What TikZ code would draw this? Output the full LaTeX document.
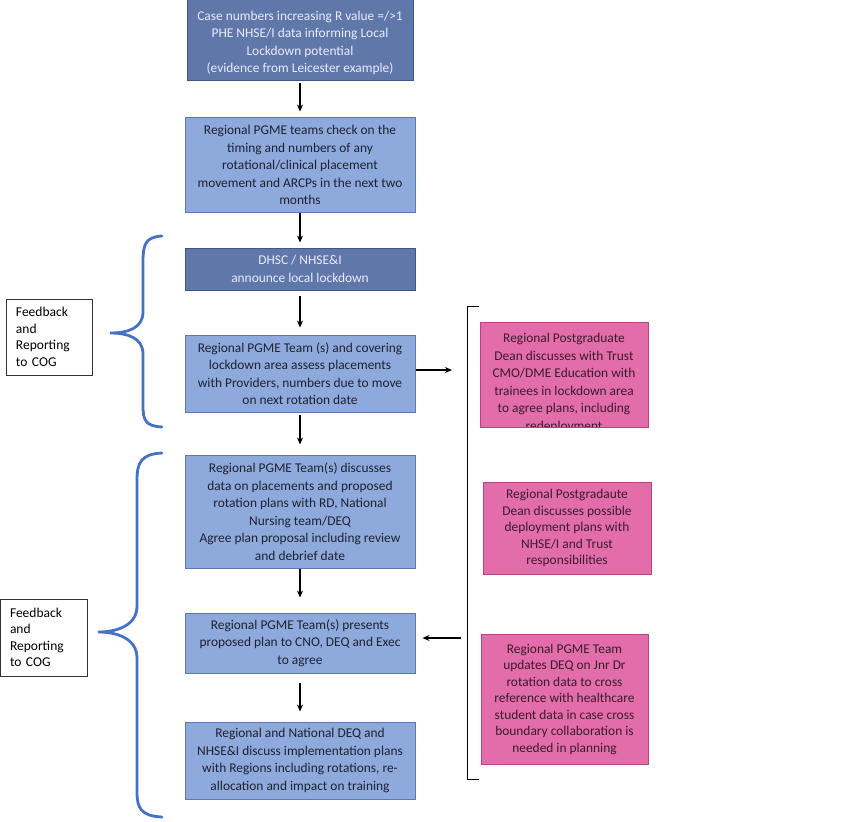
\documentclass[tikz,border=0pt]{standalone}
\usepackage{fontspec}
\setmainfont{Carlito}
\usetikzlibrary{arrows.meta}
\definecolor{darkfill}{HTML}{6078A9}
\definecolor{darkline}{HTML}{3F5788}
\definecolor{bluefill}{HTML}{8EA9DB}
\definecolor{blueline}{HTML}{5A78B4}
\definecolor{pinkfill}{HTML}{E36CAA}
\definecolor{pinkline}{HTML}{B8447F}
\definecolor{bracecol}{HTML}{4472C4}
\definecolor{bluetext}{HTML}{1E2230}
\definecolor{pinktext}{HTML}{3A1C2C}
\begin{document}
\begin{tikzpicture}[x=1pt,y=-1pt,
  base/.style={rectangle,inner sep=0pt,align=center,font=\fontsize{13.4}{17.5}\selectfont,line width=1pt},
  darkbox/.style={base,fill=darkfill,draw=darkline,text=white!92!blue},
  bluebox/.style={base,fill=bluefill,draw=blueline,text=bluetext},
  pinkbox/.style={base,fill=pinkfill,draw=pinkline,text=pinktext,font=\fontsize{13.4}{16.5}\selectfont},
  pinktxt/.style={base,text=pinktext,font=\fontsize{13.4}{17.5}\selectfont},
  fbbox/.style={rectangle,inner sep=0pt,draw=black!80,line width=0.8pt,align=left,font=\fontsize{13.5}{16.5}\selectfont},
  arr/.style={-{Stealth[length=7pt,width=6pt]},line width=1.1pt},
  bracestyle/.style={draw=bracecol,line width=2.8pt,line cap=round},
  brk/.style={line width=1pt}
]
\useasboundingbox (0,0) rectangle (850,821);

% main flow boxes
\node[darkbox,minimum width=226pt,minimum height=82pt] (b1) at (300,40) {\rule{0pt}{15pt}Case numbers increasing R value =/>1\\PHE NHSE/I data informing Local\\Lockdown potential\\(evidence from Leicester example)};
\node[bluebox,minimum width=230pt,minimum height=94pt] (b2) at (300,165) {Regional PGME teams check on the\\timing and numbers of any\\rotational/clinical placement\\movement and ARCPs in the next two\\months};
\node[darkbox,minimum width=230pt,minimum height=42pt] (b3) at (300,269) {DHSC / NHSE\&I\\announce local lockdown};
\node[bluebox,minimum width=230pt,minimum height=77pt] (b4) at (300,373.5) {Regional PGME Team (s) and covering\\lockdown area assess placements\\with Providers, numbers due to move\\on next rotation date};
\node[bluebox,minimum width=230pt,minimum height=113pt] (b5) at (300,511.5) {Regional PGME Team(s) discusses\\data on placements and proposed\\rotation plans with RD, National\\Nursing team/DEQ\\Agree plan proposal including review\\and debrief date};
\node[bluebox,minimum width=230pt,minimum height=60pt] (b6) at (300,643) {Regional PGME Team(s) presents\\proposed plan to CNO, DEQ and Exec\\to agree};
\node[bluebox,minimum width=230pt,minimum height=77pt] (b7) at (300,760.5) {Regional and National DEQ and\\NHSE\&I discuss implementation plans\\with Regions including rotations, re-\\allocation and impact on training};

% pink box 1 (text overflows and is cut at the bottom edge)
\fill[pinkfill] (480,322) rectangle (648,427);
\begin{scope}
\clip (480,322) rectangle (648,426.5);
\node[pinktxt] (p1) at (564,383) {Regional Postgraduate\\Dean discusses with Trust\\CMO/DME Education with\\trainees in lockdown area\\to agree plans, including\\redeployment};
\end{scope}
\draw[pinkline,line width=1pt] (480,322) rectangle (648,427);
\node[pinkbox,minimum width=168pt,minimum height=92pt] (p2) at (567,528) {Regional Postgradaute\\Dean discusses possible\\deployment plans with\\NHSE/I and Trust\\responsibilities};
\node[pinkbox,minimum width=167pt,minimum height=130pt] (p3) at (564.5,699) {Regional PGME Team\\updates DEQ on Jnr Dr\\rotation data to cross\\reference with healthcare\\student data in case cross\\boundary collaboration is\\needed in planning};

% feedback boxes
\node[fbbox,minimum width=86pt,minimum height=76pt,text width=66pt] (f1) at (49,337) {Feedback\\and\\Reporting\\to COG};
\node[fbbox,minimum width=87pt,minimum height=77pt,text width=67pt] (f2) at (43.5,637.5) {Feedback\\and\\Reporting\\to COG};

% vertical arrows
\draw[arr,shorten <=2pt,shorten >=6pt] (b1.south) -- (b2.north);
\draw[arr,shorten >=5pt] (b2.south) -- (b3.north);
\draw[arr,shorten <=5pt,shorten >=7pt] (b3.south) -- (b4.north);
\draw[arr,shorten <=2pt,shorten >=10pt] (b4.south) -- (b5.north);
\draw[arr,shorten >=15pt] (b5.south) -- (b6.north);
\draw[arr,shorten <=9pt,shorten >=10pt] (b6.south) -- (b7.north);

% horizontal arrows
\coordinate (rin) at (452,370);
\coordinate (rout) at (461,638);
\draw[arr] (b4.east |- rin) -- (rin);
\draw[arr,shorten >=7pt] (rout) -- (rout -| b6.east);

% right bracket
\coordinate (bt) at (479,306);
\coordinate (bb) at (479,779);
\draw[brk] (bt) -- (467,306) -- (467,779) -- (bb);

% curly braces
\draw[bracestyle] (162,236) .. controls (145,237) and (143,245) .. (143,262)
  -- (143,312) .. controls (143,328) and (128,333) .. (110,333)
  .. controls (128,333) and (143,338) .. (143,354)
  -- (143,405) .. controls (143,420) and (145,426) .. (162,427);
\draw[bracestyle] (162,453) .. controls (141,454) and (137,463) .. (137,480)
  -- (137,606) .. controls (137,625) and (118,632) .. (98,632)
  .. controls (118,632) and (137,639) .. (137,658)
  -- (137,792) .. controls (137,808) and (141,816) .. (162,817);
\end{tikzpicture}
\end{document}
